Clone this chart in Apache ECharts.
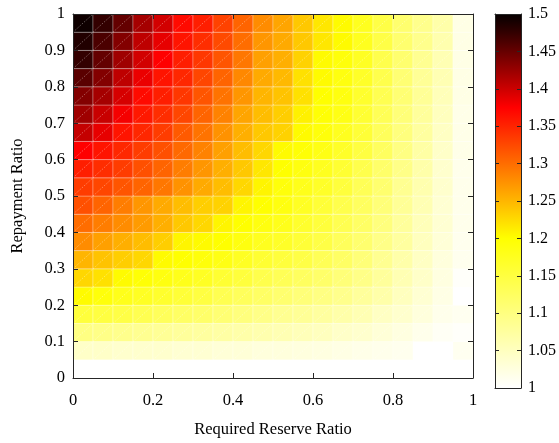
<!DOCTYPE html>
<html><head><meta charset="utf-8">
<script src="https://cdn.jsdelivr.net/npm/echarts@6/dist/echarts.min.js"></script>
<style>html,body{margin:0;padding:0;background:#fff}#c{width:559px;height:443px}</style>
</head><body><div id="c"></div>
<script>
// cell left edges (Required Reserve Ratio)
const reserveRatio = [0,0.05,0.1,0.15,0.2,0.25,0.3,0.35,0.4,0.45,0.5,0.55,0.6,0.65,0.7,0.75,0.8,0.85,0.9,0.95];
// cell bottom edges (Repayment Ratio)
const repaymentRatio = [0,0.05,0.1,0.15,0.2,0.25,0.3,0.35,0.4,0.45,0.5,0.55,0.6,0.65,0.7,0.75,0.8,0.85,0.9,0.95];
// values, one row per repayment ratio (bottom row first), one entry per reserve ratio
const cellValues = [
 [1.0,1.0,1.0,1.0,1.0,1.0,1.0,1.0,1.0,1.0,1.0,1.0,1.0,1.0,1.0,1.0,1.0,1.0,1.0,1.0],
 [1.043,1.043,1.039,1.039,1.039,1.035,1.035,1.031,1.031,1.027,1.027,1.026,1.024,1.021,1.018,1.016,1.013,1.0,1.0,1.012],
 [1.098,1.094,1.090,1.086,1.082,1.078,1.075,1.071,1.067,1.063,1.059,1.055,1.051,1.043,1.039,1.031,1.024,1.016,1.008,1.004],
 [1.153,1.149,1.145,1.137,1.129,1.122,1.118,1.110,1.102,1.094,1.086,1.082,1.075,1.067,1.059,1.047,1.039,1.027,1.016,1.012],
 [1.203,1.192,1.180,1.173,1.165,1.157,1.149,1.137,1.129,1.122,1.114,1.106,1.098,1.090,1.078,1.067,1.051,1.035,1.020,1.0],
 [1.228,1.221,1.203,1.196,1.188,1.180,1.173,1.161,1.153,1.141,1.133,1.126,1.118,1.106,1.094,1.078,1.059,1.043,1.024,1.004],
 [1.251,1.241,1.234,1.228,1.203,1.2,1.192,1.184,1.173,1.161,1.153,1.145,1.133,1.122,1.106,1.086,1.067,1.047,1.027,1.013],
 [1.279,1.265,1.255,1.245,1.234,1.207,1.203,1.2,1.188,1.176,1.169,1.157,1.145,1.129,1.114,1.094,1.075,1.051,1.031,1.013],
 [1.300,1.289,1.279,1.269,1.255,1.238,1.228,1.207,1.2,1.188,1.180,1.165,1.153,1.137,1.122,1.102,1.078,1.055,1.035,1.016],
 [1.320,1.306,1.289,1.272,1.258,1.245,1.234,1.231,1.207,1.2,1.188,1.173,1.157,1.141,1.126,1.106,1.082,1.059,1.035,1.016],
 [1.334,1.327,1.317,1.306,1.293,1.275,1.258,1.245,1.228,1.207,1.192,1.180,1.169,1.153,1.133,1.114,1.086,1.063,1.039,1.016],
 [1.354,1.344,1.334,1.320,1.306,1.289,1.272,1.255,1.238,1.217,1.2,1.188,1.176,1.161,1.141,1.118,1.094,1.067,1.039,1.016],
 [1.375,1.361,1.348,1.334,1.320,1.303,1.286,1.265,1.245,1.228,1.203,1.196,1.184,1.169,1.149,1.126,1.098,1.071,1.043,1.018],
 [1.404,1.387,1.361,1.348,1.334,1.313,1.296,1.275,1.255,1.238,1.231,1.203,1.192,1.176,1.157,1.129,1.102,1.075,1.047,1.018],
 [1.422,1.402,1.380,1.358,1.344,1.327,1.306,1.286,1.262,1.245,1.234,1.210,1.196,1.184,1.161,1.133,1.106,1.078,1.051,1.018],
 [1.436,1.419,1.395,1.368,1.354,1.337,1.317,1.296,1.272,1.251,1.241,1.221,1.2,1.188,1.165,1.137,1.110,1.082,1.055,1.020],
 [1.456,1.436,1.407,1.385,1.361,1.348,1.327,1.306,1.282,1.258,1.248,1.221,1.203,1.188,1.169,1.141,1.110,1.082,1.059,1.020],
 [1.475,1.451,1.422,1.397,1.375,1.354,1.337,1.317,1.293,1.265,1.255,1.231,1.203,1.192,1.173,1.141,1.114,1.086,1.059,1.020],
 [1.485,1.463,1.436,1.407,1.387,1.361,1.344,1.324,1.300,1.272,1.258,1.238,1.217,1.203,1.176,1.145,1.114,1.090,1.063,1.020],
 [1.495,1.475,1.451,1.419,1.397,1.368,1.354,1.330,1.306,1.279,1.262,1.238,1.217,1.203,1.176,1.145,1.114,1.090,1.067,1.020]
];
const colorRange = [1, 1.5];
const colorStops = ['#ffffff','#ffffdf','#ffffbf','#ffff9f','#ffff80','#ffff60','#ffff40','#ffff20','#ffff00',
  '#ffdb00','#ffb600','#ff9200','#ff6d00','#ff4900','#ff2400','#ff0000',
  '#cc0000','#990000','#660000','#330000','#050000'];

const step = reserveRatio[1] - reserveRatio[0];
const data = [];
for (let j = 0; j < repaymentRatio.length; j++) {
  for (let i = 0; i < reserveRatio.length; i++) {
    data.push([reserveRatio[i], repaymentRatio[j], cellValues[j][i]]);
  }
}

const font = 'Liberation Serif';
const axisColor = '#262626';
const lbl = {fontFamily: font, fontSize: 16.5, color: '#000'};
const ttl = {fontFamily: font, fontSize: 16.5, color: '#000'};
function mkAxis(extra) {
  return Object.assign({
    type: 'value', z: 5,
    axisLine: {show: true, onZero: false, lineStyle: {color: axisColor, width: 1}},
    axisTick: {show: true, inside: true, length: 5, lineStyle: {color: axisColor}},
    splitLine: {show: false},
    axisLabel: Object.assign({show: true}, lbl)
  }, extra);
}

const chart = echarts.init(document.getElementById('c'), null, {renderer: 'canvas'});
chart.setOption({
  animation: false,
  backgroundColor: '#fff',
  grid: [
    {left: 73, top: 14, width: 400, height: 374},
    {left: 495, top: 14, width: 28, height: 374}
  ],
  xAxis: [
    mkAxis({gridIndex: 0, min: 0, max: 1, interval: 0.2, position: 'bottom',
      axisLabel: Object.assign({margin: 14}, lbl),
      name: 'Required Reserve Ratio', nameLocation: 'middle', nameGap: 43, nameTextStyle: ttl}),
    mkAxis({gridIndex: 0, min: 0, max: 1, interval: 0.2, position: 'top', axisLabel: {show: false}}),
    mkAxis({gridIndex: 1, min: 0, max: 1, position: 'bottom', axisLabel: {show: false}, axisTick: {show: false}}),
    mkAxis({gridIndex: 1, min: 0, max: 1, position: 'top', axisLabel: {show: false}, axisTick: {show: false}})
  ],
  yAxis: [
    mkAxis({gridIndex: 0, min: 0, max: 1, interval: 0.1, position: 'left',
      axisLabel: Object.assign({margin: 8}, lbl),
      name: 'Repayment Ratio', nameLocation: 'middle', nameGap: 47, nameTextStyle: ttl}),
    mkAxis({gridIndex: 0, min: 0, max: 1, interval: 0.1, position: 'right', axisLabel: {show: false}}),
    mkAxis({gridIndex: 1, min: colorRange[0], max: colorRange[1], interval: 0.05, position: 'right',
      axisTick: {show: true, inside: true, length: 4, lineStyle: {color: axisColor}},
      axisLabel: Object.assign({margin: 7}, lbl, {fontSize: 16})}),
    mkAxis({gridIndex: 1, min: colorRange[0], max: colorRange[1], interval: 0.05, position: 'left',
      axisTick: {show: true, inside: true, length: 4, lineStyle: {color: axisColor}},
      axisLabel: {show: false}})
  ],
  visualMap: {
    type: 'continuous', show: false, min: colorRange[0], max: colorRange[1],
    dimension: 2, seriesIndex: 0, inRange: {color: colorStops}
  },
  series: [
    {
      type: 'custom', xAxisIndex: 0, yAxisIndex: 0, data: data, clip: true,
      renderItem: function (params, api) {
        const x = api.value(0), y = api.value(1);
        const p0 = api.coord([x, y]);
        const p1 = api.coord([x + step, y + step]);
        const color = api.visual('color');
        return {
          type: 'group',
          children: [
            {type: 'rect', shape: {x: p0[0], y: p1[1], width: p1[0] - p0[0], height: p0[1] - p1[1]},
             style: {fill: color, stroke: 'rgba(255,255,255,0.28)', lineWidth: 1}},
            {type: 'line', shape: {x1: p0[0], y1: p0[1], x2: p1[0], y2: p1[1]},
             style: {stroke: 'rgba(255,255,255,0.35)', lineWidth: 1, lineDash: [1.5, 1.5]}}
          ]
        };
      }
    },
    {
      type: 'custom', xAxisIndex: 2, yAxisIndex: 2, data: [[0, colorRange[0], 1, colorRange[1]]],
      renderItem: function (params, api) {
        const a = api.coord([api.value(0), api.value(1)]);
        const b = api.coord([api.value(2), api.value(3)]);
        const stops = colorStops.map(function (c, k) { return {offset: k / (colorStops.length - 1), color: c}; });
        return {
          type: 'rect',
          shape: {x: a[0], y: b[1], width: b[0] - a[0], height: a[1] - b[1]},
          style: {fill: new echarts.graphic.LinearGradient(0, 1, 0, 0, stops)}
        };
      }
    }
  ]
});
</script></body></html>
